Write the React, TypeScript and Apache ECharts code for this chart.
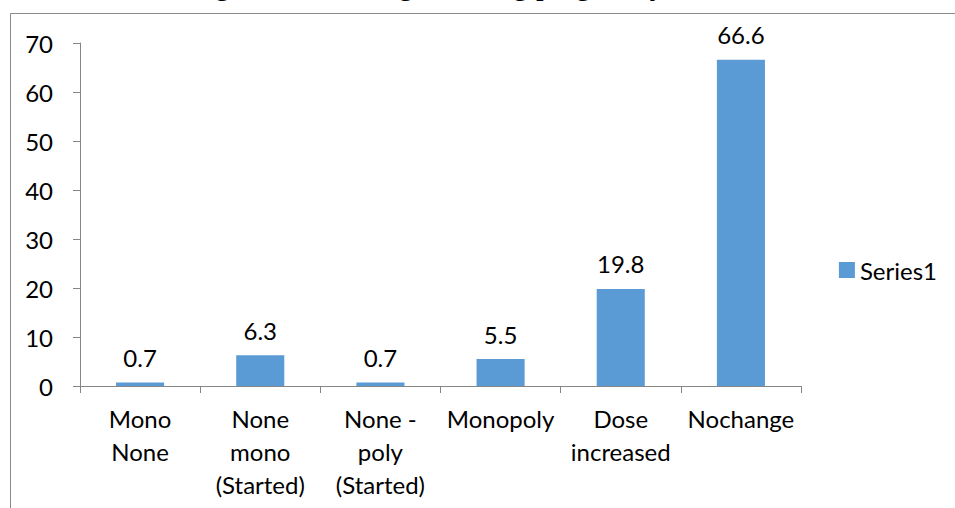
import React, { useEffect, useRef } from "react";
import * as echarts from "echarts";

const categories = [
  "Mono\nNone",
  "None\nmono\n(Started)",
  "None -\npoly\n(Started)",
  "Monopoly",
  "Dose\nincreased",
  "Nochange",
];
const series1 = [0.7, 6.3, 0.7, 5.5, 19.8, 66.6];
const seriesName = "Series1";
const yMin = 0;
const yMax = 70;
const yInterval = 10;
const captionText = "Distribution of cases based according to AED changes during pregnancy";

const FONT = "Lato";
const AXIS_GRAY = "#868686";
const BAR_BLUE = "#5B9BD5";

export default function App() {
  const ref = useRef<HTMLDivElement>(null);
  useEffect(() => {
    if (!ref.current) return;
    const chart = echarts.init(ref.current, undefined, { renderer: "svg" });
    chart.setOption({
      animation: false,
      backgroundColor: "#ffffff",
      textStyle: { fontFamily: FONT },
      graphic: [
        {
          type: "rect",
          shape: { x: 10.5, y: 13.5, width: 1000, height: 600 },
          style: { fill: "none", stroke: "#8a8a8a", lineWidth: 1 },
          silent: true,
        },
        {
          type: "text",
          x: 665,
          y: -1,
          style: {
            text: captionText,
            font: "31px 'Liberation Serif'",
            fill: "#000",
            align: "right",
            verticalAlign: "bottom",
          },
          silent: true,
        },
      ],
      legend: {
        right: 13,
        data: [seriesName],
        itemWidth: 16,
        itemHeight: 16,
        itemGap: 8,
        icon: "rect",
        textStyle: { fontFamily: FONT, fontSize: 24, color: "#000" },
        top: 253,
      },
      grid: { left: 80, right: 154, top: 43, bottom: 122, containLabel: false },
      xAxis: {
        type: "category",
        data: categories,
        axisLine: { show: true, lineStyle: { color: AXIS_GRAY, width: 1 } },
        axisTick: { show: true, length: 7, alignWithLabel: false, lineStyle: { color: AXIS_GRAY } },
        axisLabel: {
          interval: 0,
          margin: 16,
          fontFamily: FONT,
          fontSize: 24,
          lineHeight: 33,
          color: "#000",
          align: "center",
        },
        splitLine: { show: false },
      },
      yAxis: {
        type: "value",
        min: yMin,
        max: yMax,
        interval: yInterval,
        axisLine: { show: true, lineStyle: { color: AXIS_GRAY, width: 1 } },
        axisTick: { show: true, length: 7, lineStyle: { color: AXIS_GRAY } },
        axisLabel: { margin: 27, fontFamily: FONT, fontSize: 24, color: "#000" },
        splitLine: { show: false },
      },
      series: [
        {
          name: seriesName,
          type: "bar",
          data: series1,
          barWidth: "40%",
          itemStyle: { color: BAR_BLUE },
          label: {
            show: true,
            position: "top",
            distance: 13,
            fontFamily: FONT,
            fontSize: 24,
            color: "#000",
          },
        },
      ],
    });
    return () => chart.dispose();
  }, []);
  return (
    <div
      ref={ref}
      style={{ position: "fixed", left: 0, top: 0, width: 955, height: 508 }}
    />
  );
}
